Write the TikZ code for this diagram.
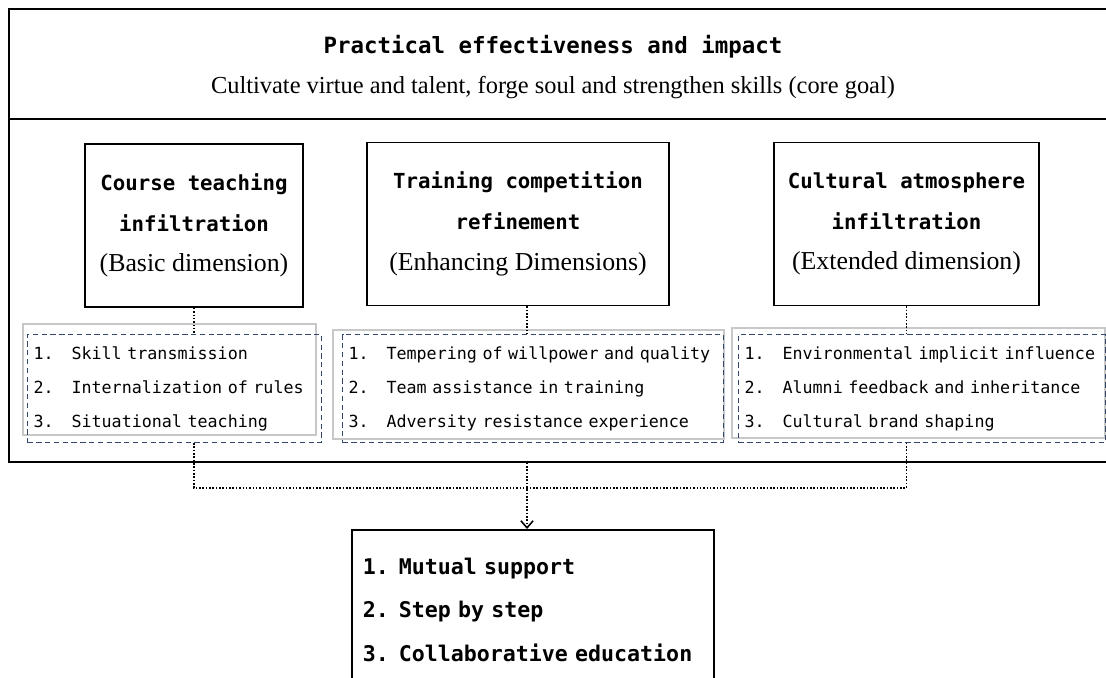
\documentclass[tikz,border=0pt]{standalone}
\usepackage{fontspec}
\setmainfont{Liberation Serif}
\setmonofont{DejaVu Sans Mono}
\usepackage{tikz}
\usetikzlibrary{arrows.meta,positioning,calc}
\definecolor{listblue}{RGB}{50,70,110}
\definecolor{listgray}{RGB}{200,200,200}
\newcommand{\itm}[1]{\makebox[0.76cm][l]{#1}}
\newcommand{\dimfont}{\rmfamily\mdseries\fontsize{14.7}{17}\selectfont}

\begin{document}
\begin{tikzpicture}[
    x=0.02cm, y=-0.02cm,
    dimbox/.style={rectangle, draw, line width=1pt, align=center, minimum height=3.26cm, inner sep=0pt},
    listbox/.style={rectangle, draw=listblue, densely dashed, line width=0.6pt, align=left, anchor=north west,
        minimum height=2.16cm, inner xsep=0.12cm, font=\ttfamily\fontsize{9.5}{19.4}\selectfont},
    conn/.style={densely dotted, line width=0.9pt},
    head/.style={font=\ttfamily\bfseries\fontsize{11.8}{23.2}\selectfont}
]
    \useasboundingbox (0,0) rectangle (1106,678);

    % outer frame
    \node[rectangle, draw, line width=1pt, anchor=north west, minimum width=22.1cm, minimum height=9.06cm, inner sep=0pt] (frame) at (8,8) {};
    \draw[line width=1pt] (frame.west |- 0,119) -- (frame.east |- 0,119);
    \node[font=\ttfamily\bfseries\fontsize{12.75}{15}\selectfont] (title) at (553,47) {Practical effectiveness and impact};
    \node[font=\fontsize{13.9}{17}\selectfont] (goal) at (553,88) {Cultivate virtue and talent, forge soul and strengthen skills (core goal)};

    % three dimensions
    \node[dimbox, head, minimum width=4.36cm] (course) at (194,225.5) {Course teaching\\infiltration\\{\dimfont(Basic dimension)}};
    \node[dimbox, head, minimum width=6.04cm] (train) at (518,224) {Training competition\\refinement\\{\dimfont(Enhancing Dimensions)}};
    \node[dimbox, head, minimum width=5.3cm] (culture) at (906.5,224) {Cultural atmosphere\\infiltration\\{\dimfont(Extended dimension)}};

    % lists
    \draw[listgray, line width=0.6pt] (23,324) rectangle (316,435);
    \draw[listgray, line width=0.6pt] (333,330) rectangle (724,439);
    \draw[listgray, line width=0.6pt] (732,328) rectangle (1105,438);
    \node[listbox, minimum width=5.88cm, text width=5.64cm] (skills) at (27,334)
        {\itm{1.}Skill transmission\\\itm{2.}Internalization of rules\\\itm{3.}Situational teaching};
    \node[listbox, minimum width=7.62cm, text width=7.38cm] (temper) at (342,334)
        {\itm{1.}Tempering of willpower and quality\\\itm{2.}Team assistance in training\\\itm{3.}Adversity resistance experience};
    \node[listbox, minimum width=7.34cm, text width=7.1cm] (brand) at (738,334)
        {\itm{1.}Environmental implicit influence\\\itm{2.}Alumni feedback and inheritance\\\itm{3.}Cultural brand shaping};

    % result
    \node[rectangle, draw, line width=1pt, anchor=north west, minimum width=7.24cm, minimum height=3.2cm,
        text width=6.8cm, inner xsep=0.22cm, align=left, font=\ttfamily\bfseries\fontsize{12.3}{24.9}\selectfont] (result) at (351,529)
        {\makebox[0.72cm][l]{1.}Mutual support\\\makebox[0.72cm][l]{2.}Step by step\\\makebox[0.72cm][l]{3.}Collaborative education};

    \coordinate (join) at (527,488);

    \draw[conn] (course.south) -- (course.south |- skills.north);
    \draw[conn] (train.south -| join) -- (join |- temper.north);
    \draw[conn] (culture.south) -- (culture.south |- brand.north);
    \draw[conn] (course.south |- skills.south) |- (join) -| (culture.south |- brand.south);
    \draw[conn, -{Straight Barb[length=4pt, width=7pt]}] (join |- frame.south) -- (join |- result.north);
\end{tikzpicture}
\end{document}
